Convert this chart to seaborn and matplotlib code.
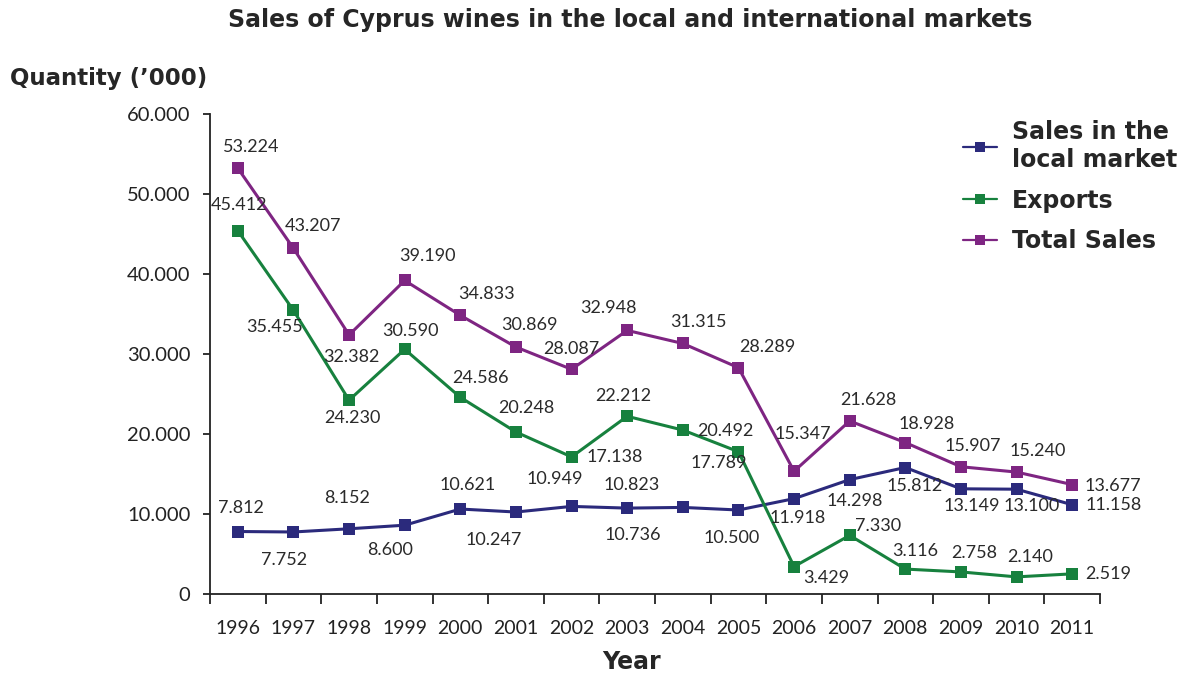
import matplotlib
matplotlib.use("Agg")
import matplotlib.pyplot as plt
import seaborn as sns
import pandas as pd
from matplotlib.ticker import FixedLocator, FuncFormatter

# ---- data ----
years = [1996, 1997, 1998, 1999, 2000, 2001, 2002, 2003,
         2004, 2005, 2006, 2007, 2008, 2009, 2010, 2011]
local_sales = [7.812, 7.752, 8.152, 8.600, 10.621, 10.247, 10.949, 10.736,
               10.823, 10.500, 11.918, 14.298, 15.812, 13.149, 13.100, 11.158]
exports = [45.412, 35.455, 24.230, 30.590, 24.586, 20.248, 17.138, 22.212,
           20.492, 17.789, 3.429, 7.330, 3.116, 2.758, 2.140, 2.519]
total_sales = [53.224, 43.207, 32.382, 39.190, 34.833, 30.869, 28.087, 32.948,
               31.315, 28.289, 15.347, 21.628, 18.928, 15.907, 15.240, 13.677]
series_names = ["Sales in the\nlocal market", "Exports", "Total Sales"]
y_ticks = [0, 10, 20, 30, 40, 50, 60]

# ---- styling (label offsets in pixels relative to each point) ----
colors = ["#2b2a7c", "#17813e", "#7e2582"]
local_off = [(3, -24), (-9, 28), (-2, -31), (-15, 25), (7, -24), (-22, 28), (-17, -27), (6, 27),
             (-51, -22), (-7, 28), (4, 19), (5, 21), (9, 18), (11, 17), (15, 17), (41, 0)]
exp_off = [(1, -26), (-19, 17), (3, 18), (6, -18), (20, -19), (10, -24), (43, 0), (-4, -20),
           (43, 1), (-20, 11), (32, 11), (28, -9), (10, -18), (13, -19), (14, -20), (36, 0)]
tot_off = [(13, -21), (20, -22), (2, 22), (23, -24), (26, -21), (14, -22), (0, -20), (-19, -22),
           (16, -21), (29, -21), (9, -37), (19, -21), (21, -19), (12, -21), (21, -21), (41, 1)]

df = pd.concat([
    pd.DataFrame({"Year": years, "Value": vals, "Series": name})
    for name, vals in zip(series_names, [local_sales, exports, total_sales])
], ignore_index=True)

sns.set_style("ticks")
plt.rcParams["font.family"] = ["Lato", "DejaVu Sans"]

W, H = 1182, 675
fig = plt.figure(figsize=(W / 100, H / 100), dpi=100)
ax = fig.add_axes([210 / W, 81 / H, 890 / W, 480 / H])

sns.lineplot(data=df, x="Year", y="Value", hue="Series", style="Series",
             palette=colors, markers=["s", "s", "s"], dashes=False,
             linewidth=2.2, markersize=8, markeredgewidth=0, ax=ax, legend=True)

# data labels
px2pt = 0.72
for vals, offs in [(local_sales, local_off), (exports, exp_off), (total_sales, tot_off)]:
    for yr, v, (dx, dy) in zip(years, vals, offs):
        ax.annotate(f"{v:.3f}", (yr, v), xytext=(dx * px2pt, -dy * px2pt),
                    textcoords="offset points", ha="center", va="center",
                    fontsize=13, color="#2a2a2a")

ax.set_xlim(years[0] - 0.5, years[-1] + 0.5)
ax.set_ylim(0, 60)
ax.set_xticks(years)
ax.set_xticklabels([str(y) for y in years])
ax.xaxis.set_minor_locator(FixedLocator([y - 0.5 for y in years] + [years[-1] + 0.5]))
ax.tick_params(axis="x", which="major", length=0, pad=19, labelsize=14, labelcolor="#222222")
ax.tick_params(axis="x", which="minor", length=7, width=1.3, color="#222222", direction="out")
ax.set_yticks(y_ticks)
ax.yaxis.set_major_formatter(FuncFormatter(lambda v, p: "0" if v == 0 else f"{int(v)}.000"))
ax.tick_params(axis="y", length=5, width=1.3, pad=9, labelsize=14.5, labelcolor="#222222", color="#222222")
ax.set_xlabel("")
ax.set_ylabel("")
for s in ["top", "right"]:
    ax.spines[s].set_visible(False)
for s in ["left", "bottom"]:
    ax.spines[s].set_linewidth(1.3)
    ax.spines[s].set_color("#222222")

# legend
bold_font = "DejaVu Sans"
handles, labels = ax.get_legend_handles_labels()
ax.get_legend().remove()
leg = fig.legend(handles, labels, loc="upper left", bbox_to_anchor=(942 / W, 1 - 99 / H),
                 frameon=False, prop={"family": bold_font, "weight": "bold", "size": 17},
                 handlelength=1.45, handletextpad=0.6, labelspacing=0.7)
for h in leg.legend_handles:
    h.set_linewidth(1.6)
    h.set_markersize(7)

fig.text(630 / W, 1 - 20 / H, "Sales of Cyprus wines in the local and international markets",
         ha="center", va="center", fontsize=17, fontweight="bold", family=bold_font)
fig.text(10 / W, 1 - 78 / H, "Quantity (\u2019000)", ha="left", va="center",
         fontsize=16.5, fontweight="bold", family=bold_font)
fig.text(632 / W, 1 - 662 / H, "Year", ha="center", va="center",
         fontsize=17, fontweight="bold", family=bold_font)

fig.savefig("out.png", dpi=100)
